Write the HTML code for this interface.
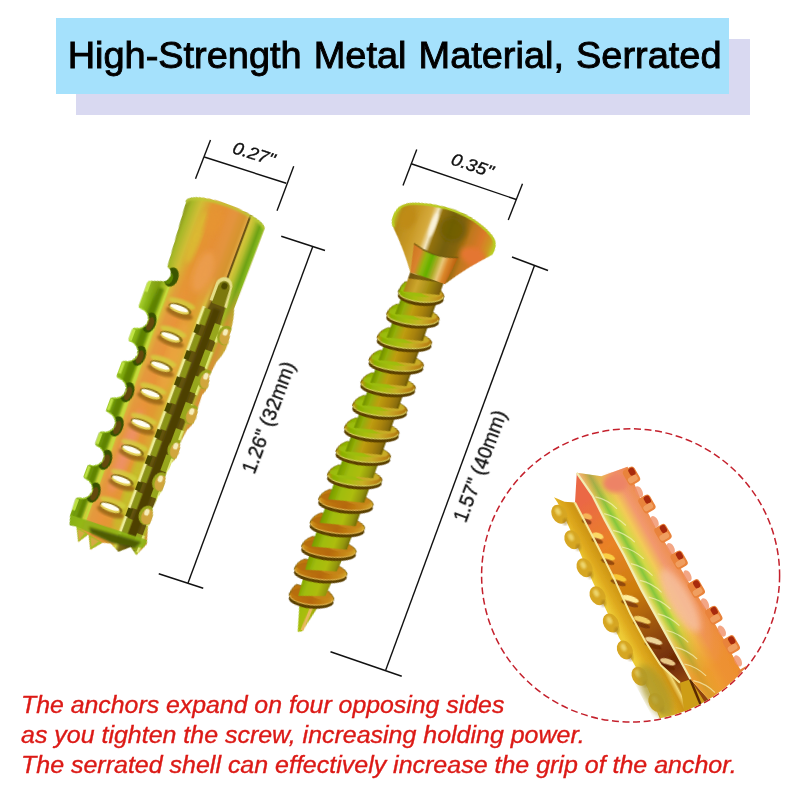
<!DOCTYPE html>
<html><head><meta charset="utf-8">
<style>
html,body{margin:0;padding:0;background:#fff;}
body{width:800px;height:800px;position:relative;overflow:hidden;font-family:"Liberation Sans",sans-serif;}
.lav{position:absolute;left:76px;top:39px;width:673.5px;height:76px;background:#d9d9f1;}
.blue{position:absolute;left:56px;top:18px;width:673px;height:76px;background:#a5e1fc;}
.title{position:absolute;left:56px;top:18px;width:673px;height:76px;line-height:76px;text-align:center;font-size:36.5px;color:#000;white-space:nowrap;transform:translate(2.1px,-0.5px) scaleX(1.039);word-spacing:1.5px;-webkit-text-stroke:0.9px #000;filter:blur(0.35px);}
.red{position:absolute;left:21px;color:#dc1a16;font-style:italic;font-size:23.5px;white-space:nowrap;line-height:24px;transform-origin:0 0;-webkit-text-stroke:0.35px #dc1a16;filter:blur(0.3px);}
svg{position:absolute;left:0;top:0;}
</style></head><body>
<div class="lav"></div><div class="blue"></div>
<div class="title" id="title">High-Strength Metal Material, Serrated</div>
<svg width="800" height="800" viewBox="0 0 800 800" font-family="Liberation Sans, sans-serif">
<g stroke="#111" stroke-width="1.4" fill="none" stroke-linecap="butt">
<line x1="210.5" y1="140" x2="195.5" y2="178.75"/>
<line x1="293.75" y1="166.25" x2="277" y2="210.75"/>
<line x1="204.25" y1="157" x2="286.25" y2="183.25"/>
<line x1="281.25" y1="236.25" x2="325" y2="250.5"/>
<line x1="312.6" y1="247" x2="188" y2="583"/>
<line x1="158.75" y1="573.75" x2="203.25" y2="588.25"/>
<line x1="416.75" y1="149.5" x2="403" y2="185.5"/>
<line x1="522.5" y1="183.75" x2="508.25" y2="220"/>
<line x1="411.25" y1="163.75" x2="516.25" y2="199.5"/>
<line x1="512" y1="257" x2="548" y2="270.5"/>
<line x1="534.5" y1="265.5" x2="385.75" y2="670"/>
<line x1="330.5" y1="651.75" x2="401.75" y2="676.25"/>
</g>
<ellipse cx="630.6" cy="575.4" rx="149" ry="146.6" fill="none" stroke="#c4202c" stroke-width="1.5" stroke-dasharray="7 3.6"/>
<g fill="#111" stroke="#111" stroke-width="0.35" style="filter:blur(0.3px)">
<text id="t027" transform="translate(254,153.3) rotate(17.7) scale(1.09,1)" font-size="17.3" font-style="italic" text-anchor="middle" y="6.2">0.27"</text>
<text id="t035" transform="translate(472.5,165) rotate(18.8) scale(1.09,1)" font-size="17.3" font-style="italic" text-anchor="middle" y="6.2">0.35"</text>
<text id="t126" transform="translate(268.4,417.4) rotate(-69.5)" font-size="19.5" text-anchor="middle" y="7">1.26" (32mm)</text>
<text id="t157" transform="translate(479.8,466) rotate(-69.5)" font-size="19.5" text-anchor="middle" y="7">1.57" (40mm)</text>
</g>
<!-- ART -->
<g id="anchor" transform="translate(186.4,201.6) rotate(20.35)">
<defs>
<linearGradient id="aBody" gradientUnits="userSpaceOnUse" x1="-8" y1="0" x2="88" y2="0">
<stop offset="0" stop-color="#b4d838"/><stop offset="0.05" stop-color="#9cc424"/><stop offset="0.12" stop-color="#80a814"/>
<stop offset="0.18" stop-color="#a8cc28"/><stop offset="0.215" stop-color="#ccdc40"/>
<stop offset="0.25" stop-color="#e4bc44"/><stop offset="0.3" stop-color="#e8a848"/><stop offset="0.4" stop-color="#eca444"/><stop offset="0.52" stop-color="#e6a83c"/><stop offset="0.6" stop-color="#e0b83c"/>
<stop offset="0.64" stop-color="#dcdc50"/><stop offset="0.68" stop-color="#8a8020"/><stop offset="0.76" stop-color="#70641a"/><stop offset="0.83" stop-color="#7c741c"/>
<stop offset="0.86" stop-color="#b4cc30"/><stop offset="0.92" stop-color="#dca040"/><stop offset="1" stop-color="#d0b840"/>
</linearGradient>
<linearGradient id="aCyl" gradientUnits="userSpaceOnUse" x1="0" y1="0" x2="86" y2="0">
<stop offset="0" stop-color="#98a828"/><stop offset="0.07" stop-color="#b4c434"/><stop offset="0.17" stop-color="#d8c840"/>
<stop offset="0.3" stop-color="#e8a63c"/><stop offset="0.45" stop-color="#eaa040"/><stop offset="0.58" stop-color="#e8a448"/><stop offset="0.7" stop-color="#dca438"/>
<stop offset="0.74" stop-color="#e4b44c"/><stop offset="0.755" stop-color="#4a3c0c"/><stop offset="0.775" stop-color="#e0d048"/>
<stop offset="0.83" stop-color="#c0c838"/><stop offset="0.9" stop-color="#7cb020"/><stop offset="0.96" stop-color="#a0cc2c"/><stop offset="1" stop-color="#b4dc3c"/>
</linearGradient>
<linearGradient id="aCylV" gradientUnits="userSpaceOnUse" x1="0" y1="60" x2="0" y2="105">
<stop offset="0" stop-color="#fff" stop-opacity="1"/><stop offset="1" stop-color="#fff" stop-opacity="0"/>
</linearGradient>
<mask id="aCylM"><rect x="-20" y="-20" width="130" height="140" fill="url(#aCylV)"/></mask>
<clipPath id="aClip"><path d="M0,1 L4.5,62 L5,68 A6,7.5 0 0 1 5,83 L-6.5,87 Q-8.5,87.5 -8.5,90 L-8.5,113.8 Q-8.5,115.8 -6.5,116.3 A10.5,9.7 0 0 1 -4.5,136.3 Q-6.5,136.8 -6.5,138.8 L-6.5,148.4 Q-6.5,150.4 -4.5,150.9 A10.5,9.7 0 0 1 -3,170.9 Q-5,171.4 -5,173.4 L-5,186.7 Q-5,188.7 -3,189.2 A10.5,9.7 0 0 1 -1,209.2 Q-3,209.7 -3,211.7 L-3,222.5 Q-3,224.5 -1,225.0 A10.5,9.7 0 0 1 0.5,245.0 Q-1.5,245.5 -1.5,247.5 L-1.5,257.8 Q-1.5,259.8 0.5,260.3 A10.5,9.7 0 0 1 1,280.3 Q-1,280.8 -1,282.8 L-1,292.6 Q-1,294.6 1,295.1 A10.5,9.7 0 0 1 1.5,315.1 Q-0.5,315.6 -0.5,317.6 L0,334 L3,344 L10,343 L17,357 L24,346 L31,360 L40,349 L48,347 L58,352 L68,343 L76,349 L82,335 L77,318 Q80,308 75,300 L76,286 Q80,274 75.5,264 L77,250 Q83,240 78,229 L80,214 Q87,202 82.5,190 L82,176 Q87,166 82,156 L84,140 Q91,124 87,110 Q86,95 82,84 L82.5,-2.6 A41.5,11 0 0 0 0,1 Z"/></clipPath>
<filter id="b06"><feGaussianBlur stdDeviation="0.6"/><feComponentTransfer><feFuncR type="gamma" exponent="1.18"/><feFuncG type="gamma" exponent="1.22"/><feFuncB type="gamma" exponent="1.1"/></feComponentTransfer></filter>
<filter id="b06p"><feGaussianBlur stdDeviation="0.6"/></filter>
<filter id="b1"><feGaussianBlur stdDeviation="1"/></filter>
<filter id="b2"><feGaussianBlur stdDeviation="2"/></filter>
<filter id="b3"><feGaussianBlur stdDeviation="3"/></filter>
</defs>
<g filter="url(#b06)">
<path d="M0,1 L4.5,62 L5,68 A6,7.5 0 0 1 5,83 L-6.5,87 Q-8.5,87.5 -8.5,90 L-8.5,113.8 Q-8.5,115.8 -6.5,116.3 A10.5,9.7 0 0 1 -4.5,136.3 Q-6.5,136.8 -6.5,138.8 L-6.5,148.4 Q-6.5,150.4 -4.5,150.9 A10.5,9.7 0 0 1 -3,170.9 Q-5,171.4 -5,173.4 L-5,186.7 Q-5,188.7 -3,189.2 A10.5,9.7 0 0 1 -1,209.2 Q-3,209.7 -3,211.7 L-3,222.5 Q-3,224.5 -1,225.0 A10.5,9.7 0 0 1 0.5,245.0 Q-1.5,245.5 -1.5,247.5 L-1.5,257.8 Q-1.5,259.8 0.5,260.3 A10.5,9.7 0 0 1 1,280.3 Q-1,280.8 -1,282.8 L-1,292.6 Q-1,294.6 1,295.1 A10.5,9.7 0 0 1 1.5,315.1 Q-0.5,315.6 -0.5,317.6 L0,334 L3,344 L10,343 L17,357 L24,346 L31,360 L40,349 L48,347 L58,352 L68,343 L76,349 L82,335 L77,318 Q80,308 75,300 L76,286 Q80,274 75.5,264 L77,250 Q83,240 78,229 L80,214 Q87,202 82.5,190 L82,176 Q87,166 82,156 L84,140 Q91,124 87,110 Q86,95 82,84 L82.5,-2.6 A41.5,11 0 0 0 0,1 Z" fill="url(#aBody)"/>
<g clip-path="url(#aClip)">
<rect x="-10" y="-15" width="100" height="125" fill="url(#aCyl)" mask="url(#aCylM)"/>
<path d="M0,2 A41.5,11 0 0 1 82.5,-1.6" stroke="#c8d440" stroke-width="3" fill="none" filter="url(#b1)"/>
<ellipse cx="22" cy="30" rx="5" ry="28" fill="#e0c83c" opacity="0.8" filter="url(#b2)"/>
<ellipse cx="40" cy="60" rx="9" ry="22" fill="#f0b060" opacity="0.7" filter="url(#b3)"/>
<ellipse cx="33" cy="10" rx="8" ry="14" fill="#eaa43c" opacity="0.8" filter="url(#b3)"/>
<path d="M4,90 L2,120 L3,200 L6,335 L12,335 L10.5,200 L9.5,120 L9.5,90 Z" fill="#6c9010" opacity="0.9" filter="url(#b1)"/>
<path d="M12.5,86 L12.5,120 L14,200 L16,335" stroke="#cce044" stroke-width="3" fill="none" filter="url(#b06p)"/>
<ellipse cx="12.2" cy="76" rx="7" ry="10" fill="#4c6c08"/>
<ellipse cx="10.2" cy="78" rx="4" ry="6" fill="#6c9410"/>
<rect x="-8.0" y="86.5" width="3" height="12" fill="#ccec54" opacity="0.9" filter="url(#b06p)"/>
<ellipse cx="7.5" cy="126.3" rx="6.5" ry="10.5" fill="#4a6608"/>
<ellipse cx="8.5" cy="127.3" rx="3.5" ry="7" fill="#7a5c20" opacity="0.9"/>
<path d="M-6.5,116.3 A10.5,9.7 0 0 1 -4.5,136.3" stroke="#b8e040" stroke-width="1.8" fill="none"/>
<rect x="-6.0" y="137.8" width="3" height="12" fill="#ccec54" opacity="0.9" filter="url(#b06p)"/>
<ellipse cx="9.25" cy="160.9" rx="6.5" ry="10.5" fill="#4a6608"/>
<ellipse cx="10.25" cy="161.9" rx="3.5" ry="7" fill="#7a5c20" opacity="0.9"/>
<path d="M-4.5,150.9 A10.5,9.7 0 0 1 -3,170.9" stroke="#b8e040" stroke-width="1.8" fill="none"/>
<rect x="-4.5" y="172.4" width="3" height="12" fill="#ccec54" opacity="0.9" filter="url(#b06p)"/>
<ellipse cx="11.0" cy="199.2" rx="6.5" ry="10.5" fill="#4a6608"/>
<ellipse cx="12.0" cy="200.2" rx="3.5" ry="7" fill="#7a5c20" opacity="0.9"/>
<path d="M-3,189.2 A10.5,9.7 0 0 1 -1,209.2" stroke="#b8e040" stroke-width="1.8" fill="none"/>
<rect x="-2.5" y="210.7" width="3" height="12" fill="#ccec54" opacity="0.9" filter="url(#b06p)"/>
<ellipse cx="12.75" cy="235" rx="6.5" ry="10.5" fill="#4a6608"/>
<ellipse cx="13.75" cy="236" rx="3.5" ry="7" fill="#7a5c20" opacity="0.9"/>
<path d="M-1,225.0 A10.5,9.7 0 0 1 0.5,245.0" stroke="#b8e040" stroke-width="1.8" fill="none"/>
<rect x="-1.0" y="246.5" width="3" height="12" fill="#ccec54" opacity="0.9" filter="url(#b06p)"/>
<ellipse cx="13.75" cy="270.3" rx="6.5" ry="10.5" fill="#4a6608"/>
<ellipse cx="14.75" cy="271.3" rx="3.5" ry="7" fill="#7a5c20" opacity="0.9"/>
<path d="M0.5,260.3 A10.5,9.7 0 0 1 1,280.3" stroke="#b8e040" stroke-width="1.8" fill="none"/>
<rect x="-0.5" y="281.8" width="3" height="12" fill="#ccec54" opacity="0.9" filter="url(#b06p)"/>
<ellipse cx="14.25" cy="305.1" rx="6.5" ry="10.5" fill="#4a6608"/>
<ellipse cx="15.25" cy="306.1" rx="3.5" ry="7" fill="#7a5c20" opacity="0.9"/>
<path d="M1,295.1 A10.5,9.7 0 0 1 1.5,315.1" stroke="#b8e040" stroke-width="1.8" fill="none"/>
<rect x="0.0" y="316.6" width="3" height="12" fill="#ccec54" opacity="0.9" filter="url(#b06p)"/>
<ellipse cx="30" cy="255" rx="6" ry="45" fill="#f2a078" opacity="0.85" filter="url(#b3)"/>
<ellipse cx="42" cy="150" rx="8" ry="40" fill="#f0b850" opacity="0.6" filter="url(#b3)"/>
<ellipse cx="47" cy="290" rx="5" ry="45" fill="#c4d030" opacity="0.8" filter="url(#b3)"/>
<ellipse cx="31.3" cy="97.2" rx="14" ry="4" fill="#d8dc48" opacity="0.75" filter="url(#b1)"/>
<ellipse cx="32.3" cy="107.2" rx="14" ry="4.5" fill="#a87c24" opacity="0.9" filter="url(#b1)"/>
<ellipse cx="31.3" cy="102.7" rx="12" ry="4.6" fill="#9a8420"/>
<ellipse cx="30.8" cy="103.9" rx="10.5" ry="3.4" fill="#e8d860"/>
<ellipse cx="30.3" cy="102.4" rx="9.5" ry="2.6" fill="#fffef4"/>
<ellipse cx="32.8" cy="126.6" rx="14" ry="4" fill="#d8dc48" opacity="0.75" filter="url(#b1)"/>
<ellipse cx="33.8" cy="136.6" rx="14" ry="4.5" fill="#a87c24" opacity="0.9" filter="url(#b1)"/>
<ellipse cx="32.8" cy="132.1" rx="12" ry="4.6" fill="#9a8420"/>
<ellipse cx="32.3" cy="133.29999999999998" rx="10.5" ry="3.4" fill="#e8d860"/>
<ellipse cx="31.799999999999997" cy="131.79999999999998" rx="9.5" ry="2.6" fill="#fffef4"/>
<ellipse cx="33.7" cy="157.6" rx="14" ry="4" fill="#d8dc48" opacity="0.75" filter="url(#b1)"/>
<ellipse cx="34.7" cy="167.6" rx="14" ry="4.5" fill="#a87c24" opacity="0.9" filter="url(#b1)"/>
<ellipse cx="33.7" cy="163.1" rx="12" ry="4.6" fill="#9a8420"/>
<ellipse cx="33.2" cy="164.29999999999998" rx="10.5" ry="3.4" fill="#e8d860"/>
<ellipse cx="32.7" cy="162.79999999999998" rx="9.5" ry="2.6" fill="#fffef4"/>
<ellipse cx="33.9" cy="186.9" rx="14" ry="4" fill="#d8dc48" opacity="0.75" filter="url(#b1)"/>
<ellipse cx="34.9" cy="196.9" rx="14" ry="4.5" fill="#a87c24" opacity="0.9" filter="url(#b1)"/>
<ellipse cx="33.9" cy="192.4" rx="12" ry="4.6" fill="#9a8420"/>
<ellipse cx="33.4" cy="193.6" rx="10.5" ry="3.4" fill="#e8d860"/>
<ellipse cx="32.9" cy="192.1" rx="9.5" ry="2.6" fill="#fffef4"/>
<ellipse cx="35.7" cy="218.5" rx="14" ry="4" fill="#d8dc48" opacity="0.75" filter="url(#b1)"/>
<ellipse cx="36.7" cy="228.5" rx="14" ry="4.5" fill="#a87c24" opacity="0.9" filter="url(#b1)"/>
<ellipse cx="35.7" cy="224" rx="12" ry="4.6" fill="#9a8420"/>
<ellipse cx="35.2" cy="225.2" rx="10.5" ry="3.4" fill="#e8d860"/>
<ellipse cx="34.7" cy="223.7" rx="9.5" ry="2.6" fill="#fffef4"/>
<ellipse cx="36" cy="246.4" rx="14" ry="4" fill="#d8dc48" opacity="0.75" filter="url(#b1)"/>
<ellipse cx="37" cy="256.4" rx="14" ry="4.5" fill="#a87c24" opacity="0.9" filter="url(#b1)"/>
<ellipse cx="36" cy="251.9" rx="12" ry="4.6" fill="#9a8420"/>
<ellipse cx="35.5" cy="253.1" rx="10.5" ry="3.4" fill="#e8d860"/>
<ellipse cx="35" cy="251.6" rx="9.5" ry="2.6" fill="#fffef4"/>
<ellipse cx="36.7" cy="278.1" rx="14" ry="4" fill="#d8dc48" opacity="0.75" filter="url(#b1)"/>
<ellipse cx="37.7" cy="288.1" rx="14" ry="4.5" fill="#a87c24" opacity="0.9" filter="url(#b1)"/>
<ellipse cx="36.7" cy="283.6" rx="12" ry="4.6" fill="#9a8420"/>
<ellipse cx="36.2" cy="284.8" rx="10.5" ry="3.4" fill="#e8d860"/>
<ellipse cx="35.7" cy="283.3" rx="9.5" ry="2.6" fill="#fffef4"/>
<ellipse cx="35.7" cy="307.5" rx="14" ry="4" fill="#d8dc48" opacity="0.75" filter="url(#b1)"/>
<ellipse cx="36.7" cy="317.5" rx="14" ry="4.5" fill="#a87c24" opacity="0.9" filter="url(#b1)"/>
<ellipse cx="35.7" cy="313" rx="12" ry="4.6" fill="#9a8420"/>
<ellipse cx="35.2" cy="314.2" rx="10.5" ry="3.4" fill="#e8d860"/>
<ellipse cx="34.7" cy="312.7" rx="9.5" ry="2.6" fill="#fffef4"/>
<path d="M60,70 L72,70 L76,120 L75,335 L53,335 L54,120 Z" fill="#74681a"/>
<path d="M62,90 L70,90 L70,335 L60,335 Z" fill="#5e5410" filter="url(#b1)"/>
<rect x="51.5" y="92" width="3" height="19" fill="#f0f0a0"/>
<rect x="54.5" y="93" width="6" height="17" fill="#9aa424"/>
<rect x="52" y="111" width="5" height="9" fill="#5a5c10"/>
<rect x="69" y="104" width="6.5" height="17" fill="#a4b428"/>
<rect x="75" y="104" width="2.5" height="18" fill="#e4ec80"/>
<rect x="51.5" y="120" width="3" height="19" fill="#f0f0a0"/>
<rect x="54.5" y="121" width="6" height="17" fill="#9aa424"/>
<rect x="52" y="139" width="5" height="9" fill="#5a5c10"/>
<rect x="69" y="132" width="6.5" height="17" fill="#a4b428"/>
<rect x="75" y="132" width="2.5" height="18" fill="#e4ec80"/>
<rect x="51.5" y="148" width="3" height="19" fill="#f0f0a0"/>
<rect x="54.5" y="149" width="6" height="17" fill="#9aa424"/>
<rect x="52" y="167" width="5" height="9" fill="#5a5c10"/>
<rect x="69" y="160" width="6.5" height="17" fill="#a4b428"/>
<rect x="75" y="160" width="2.5" height="18" fill="#e4ec80"/>
<rect x="51.5" y="176" width="3" height="19" fill="#f0f0a0"/>
<rect x="54.5" y="177" width="6" height="17" fill="#9aa424"/>
<rect x="52" y="195" width="5" height="9" fill="#5a5c10"/>
<rect x="69" y="188" width="6.5" height="17" fill="#a4b428"/>
<rect x="75" y="188" width="2.5" height="18" fill="#e4ec80"/>
<rect x="51.5" y="204" width="3" height="19" fill="#f0f0a0"/>
<rect x="54.5" y="205" width="6" height="17" fill="#9aa424"/>
<rect x="52" y="223" width="5" height="9" fill="#5a5c10"/>
<rect x="69" y="216" width="6.5" height="17" fill="#a4b428"/>
<rect x="75" y="216" width="2.5" height="18" fill="#e4ec80"/>
<rect x="51.5" y="232" width="3" height="19" fill="#f0f0a0"/>
<rect x="54.5" y="233" width="6" height="17" fill="#9aa424"/>
<rect x="52" y="251" width="5" height="9" fill="#5a5c10"/>
<rect x="69" y="244" width="6.5" height="17" fill="#a4b428"/>
<rect x="75" y="244" width="2.5" height="18" fill="#e4ec80"/>
<rect x="51.5" y="260" width="3" height="19" fill="#f0f0a0"/>
<rect x="54.5" y="261" width="6" height="17" fill="#9aa424"/>
<rect x="52" y="279" width="5" height="9" fill="#5a5c10"/>
<rect x="69" y="272" width="6.5" height="17" fill="#a4b428"/>
<rect x="75" y="272" width="2.5" height="18" fill="#e4ec80"/>
<rect x="51.5" y="288" width="3" height="19" fill="#f0f0a0"/>
<rect x="54.5" y="289" width="6" height="17" fill="#9aa424"/>
<rect x="52" y="307" width="5" height="9" fill="#5a5c10"/>
<rect x="69" y="300" width="6.5" height="17" fill="#a4b428"/>
<rect x="75" y="300" width="2.5" height="18" fill="#e4ec80"/>
<rect x="51.5" y="316" width="3" height="19" fill="#f0f0a0"/>
<rect x="54.5" y="317" width="6" height="17" fill="#9aa424"/>
<rect x="52" y="335" width="5" height="9" fill="#5a5c10"/>
<rect x="69" y="328" width="6.5" height="17" fill="#a4b428"/>
<rect x="75" y="328" width="2.5" height="18" fill="#e4ec80"/>
<ellipse cx="83" cy="112" rx="8" ry="10" fill="#a8b428"/>
<ellipse cx="84" cy="113" rx="6" ry="8" fill="#d8b448" filter="url(#b06p)"/>
<ellipse cx="82" cy="109" rx="2.5" ry="3.5" fill="#f8f0c0" filter="url(#b06p)"/>
<ellipse cx="80" cy="160" rx="8" ry="10" fill="#a8b428"/>
<ellipse cx="81" cy="161" rx="6" ry="8" fill="#d8b448" filter="url(#b06p)"/>
<ellipse cx="79" cy="157" rx="2.5" ry="3.5" fill="#f8f0c0" filter="url(#b06p)"/>
<ellipse cx="79" cy="198" rx="8" ry="10" fill="#a8b428"/>
<ellipse cx="80" cy="199" rx="6" ry="8" fill="#d8b448" filter="url(#b06p)"/>
<ellipse cx="78" cy="195" rx="2.5" ry="3.5" fill="#f8f0c0" filter="url(#b06p)"/>
<ellipse cx="76" cy="236" rx="8" ry="10" fill="#a8b428"/>
<ellipse cx="77" cy="237" rx="6" ry="8" fill="#d8b448" filter="url(#b06p)"/>
<ellipse cx="75" cy="233" rx="2.5" ry="3.5" fill="#f8f0c0" filter="url(#b06p)"/>
<ellipse cx="73" cy="272" rx="8" ry="10" fill="#a8b428"/>
<ellipse cx="74" cy="273" rx="6" ry="8" fill="#d8b448" filter="url(#b06p)"/>
<ellipse cx="72" cy="269" rx="2.5" ry="3.5" fill="#f8f0c0" filter="url(#b06p)"/>
<ellipse cx="72" cy="308" rx="8" ry="10" fill="#a8b428"/>
<ellipse cx="73" cy="309" rx="6" ry="8" fill="#d8b448" filter="url(#b06p)"/>
<ellipse cx="71" cy="305" rx="2.5" ry="3.5" fill="#f8f0c0" filter="url(#b06p)"/>
<path d="M56,84 L56,66 A8.5,9 0 0 1 73,66 L75,86 Z" fill="#e8e490"/>
<path d="M59,86 L59,68 A6,7 0 0 1 71,68 L72,86 Z" fill="#8c8c1c"/>
<ellipse cx="65" cy="66" rx="3" ry="3.5" fill="#5c5c0c"/>
<path d="M0,334 L82,331 L80,340 L48,345 L3,343 Z" fill="#9cc024" opacity="0.9" filter="url(#b06p)"/>
<path d="M22,339 L76,335 L72,343 L48,346 L26,344 Z" fill="#546410" opacity="0.85" filter="url(#b1)"/>
<path d="M10,343 L17,357 L24,346 Z M24,346 L31,360 L40,349 Z M58,352 L68,343 L76,349 L70,353 Z" fill="#b0c82c"/>
<path d="M12,345 L17,355 L20,346 Z M27,348 L31,357 L36,349 Z" fill="#dcb850"/>
</g></g>
</g>
<g id="screw" transform="translate(444,230.7) rotate(19.9)">
<defs>
<linearGradient id="sCore" gradientUnits="userSpaceOnUse" x1="-18" y1="0" x2="18" y2="0">
<stop offset="0" stop-color="#7c9c08"/><stop offset="0.18" stop-color="#a0bc12"/><stop offset="0.42" stop-color="#c8ac20"/>
<stop offset="0.7" stop-color="#b49418"/><stop offset="0.9" stop-color="#988014"/><stop offset="1" stop-color="#74640c"/>
</linearGradient>
<linearGradient id="sCore2" gradientUnits="userSpaceOnUse" x1="-18" y1="0" x2="18" y2="0">
<stop offset="0" stop-color="#84a80a"/><stop offset="0.3" stop-color="#acc816"/><stop offset="0.6" stop-color="#b8c81e"/>
<stop offset="0.85" stop-color="#a0a418"/><stop offset="1" stop-color="#807c0e"/>
</linearGradient>
<linearGradient id="sDisc" gradientUnits="userSpaceOnUse" x1="-28" y1="0" x2="28" y2="0">
<stop offset="0" stop-color="#d09c1c"/><stop offset="0.12" stop-color="#98bc0c"/><stop offset="0.4" stop-color="#b4c81c"/>
<stop offset="0.65" stop-color="#d0bc30"/><stop offset="0.85" stop-color="#c89c24"/><stop offset="1" stop-color="#b4881c"/>
</linearGradient>
<linearGradient id="sDiscB" gradientUnits="userSpaceOnUse" x1="-28" y1="0" x2="28" y2="0">
<stop offset="0" stop-color="#d8a828"/><stop offset="0.15" stop-color="#c88a1c"/><stop offset="0.5" stop-color="#c07c18"/>
<stop offset="0.8" stop-color="#d09a24"/><stop offset="1" stop-color="#d8b430"/>
</linearGradient>
<linearGradient id="sHead" gradientUnits="userSpaceOnUse" x1="-53" y1="0" x2="53" y2="0">
<stop offset="0" stop-color="#c4d42c"/><stop offset="0.07" stop-color="#c09a22"/><stop offset="0.22" stop-color="#d0a830"/><stop offset="0.33" stop-color="#dcb848"/>
<stop offset="0.385" stop-color="#f6ecc8"/><stop offset="0.43" stop-color="#a08418"/><stop offset="0.55" stop-color="#847414"/><stop offset="0.66" stop-color="#94781a"/>
<stop offset="0.75" stop-color="#c88a26"/><stop offset="0.86" stop-color="#e08a34"/><stop offset="0.95" stop-color="#d4a82c"/><stop offset="1" stop-color="#c4d42c"/>
</linearGradient>
<linearGradient id="sNeck" gradientUnits="userSpaceOnUse" x1="-18" y1="0" x2="18" y2="0">
<stop offset="0" stop-color="#b89420"/><stop offset="0.3" stop-color="#d4b438"/><stop offset="0.6" stop-color="#b4a020"/><stop offset="1" stop-color="#846c10"/>
</linearGradient>
<linearGradient id="sCone" gradientUnits="userSpaceOnUse" x1="-24" y1="0" x2="22" y2="0">
<stop offset="0" stop-color="#d4882c"/><stop offset="0.2" stop-color="#e09438"/><stop offset="0.34" stop-color="#a0c418"/><stop offset="0.48" stop-color="#74bc0c"/>
<stop offset="0.6" stop-color="#b4b830"/><stop offset="0.72" stop-color="#ecd080"/><stop offset="0.84" stop-color="#e09834"/><stop offset="1" stop-color="#c4741c"/>
</linearGradient>
</defs>
<g filter="url(#b06)">
<path d="M-12.5,388 L-1,427 L3,425 L12.5,384 Z" fill="url(#sCore2)"/>
<path d="M4,396 L2.5,424" stroke="#ecc468" stroke-width="3" fill="none"/>
<g transform="translate(0,389) rotate(-14)">
<ellipse cx="0" cy="4" rx="22.5" ry="8" fill="#6c5408"/>
<path d="M-22.5,0 Q-20.5,-7 -16.5,-10.5 L16.5,-7 Q20.5,-4 22.5,0 Z" fill="url(#sDiscB)" stroke="#7a6810" stroke-width="0.5"/>
<ellipse cx="0" cy="0.5" rx="22.5" ry="8" fill="url(#sDiscB)" stroke="#7a6810" stroke-width="0.6"/>
<ellipse cx="-1" cy="-2.5" rx="19.5" ry="5.6" fill="#c08018" opacity="0.9"/>
<ellipse cx="10.125" cy="-2" rx="10.125" ry="4.4" fill="#d09828" opacity="0.9" filter="url(#b06p)"/>
<path d="M-21.5,1 A21.5,7.4 0 0 0 21.5,1" stroke="#ecc860" stroke-width="1.2" fill="none" opacity="0.9"/>
</g>
<path d="M-12.763157894736842,393 L-15.131578947368421,362 L15.131578947368421,354 L12.763157894736842,384 Z" fill="url(#sCore2)"/>
<path d="M-15.131578947368421,371 L-15.131578947368421,362 L15.131578947368421,354 L15.131578947368421,363 Z" fill="#5a4a08" opacity="0.6"/>
<g transform="translate(0,362) rotate(-14)">
<ellipse cx="0" cy="4" rx="26.5" ry="8" fill="#6c5408"/>
<path d="M-26.5,0 Q-24.5,-7 -17.5,-10.5 L17.5,-7 Q24.5,-4 26.5,0 Z" fill="url(#sDiscB)" stroke="#7a6810" stroke-width="0.5"/>
<ellipse cx="0" cy="0.5" rx="26.5" ry="8" fill="url(#sDiscB)" stroke="#7a6810" stroke-width="0.6"/>
<ellipse cx="-1" cy="-2.5" rx="23.5" ry="5.6" fill="#c08018" opacity="0.9"/>
<ellipse cx="11.925" cy="-2" rx="11.925" ry="4.4" fill="#d09828" opacity="0.9" filter="url(#b06p)"/>
<path d="M-25.5,1 A25.5,7.4 0 0 0 25.5,1" stroke="#ecc860" stroke-width="1.2" fill="none" opacity="0.9"/>
</g>
<path d="M-15.131578947368421,366 L-17.236842105263158,338 L17.236842105263158,330 L15.131578947368421,357 Z" fill="url(#sCore2)"/>
<path d="M-17.236842105263158,347 L-17.236842105263158,338 L17.236842105263158,330 L17.236842105263158,339 Z" fill="#5a4a08" opacity="0.6"/>
<g transform="translate(0,338) rotate(-14)">
<ellipse cx="0" cy="4" rx="27.5" ry="8" fill="#6c5408"/>
<path d="M-27.5,0 Q-25.5,-7 -17.5,-10.5 L17.5,-7 Q25.5,-4 27.5,0 Z" fill="url(#sDiscB)" stroke="#7a6810" stroke-width="0.5"/>
<ellipse cx="0" cy="0.5" rx="27.5" ry="8" fill="url(#sDiscB)" stroke="#7a6810" stroke-width="0.6"/>
<ellipse cx="-1" cy="-2.5" rx="24.5" ry="5.6" fill="#c08018" opacity="0.9"/>
<ellipse cx="12.375" cy="-2" rx="12.375" ry="4.4" fill="#d09828" opacity="0.9" filter="url(#b06p)"/>
<path d="M-26.5,1 A26.5,7.4 0 0 0 26.5,1" stroke="#ecc860" stroke-width="1.2" fill="none" opacity="0.9"/>
</g>
<path d="M-17.236842105263158,342 L-17.5,313 L17.5,305 L17.236842105263158,333 Z" fill="url(#sCore2)"/>
<path d="M-17.5,322 L-17.5,313 L17.5,305 L17.5,314 Z" fill="#5a4a08" opacity="0.6"/>
<g transform="translate(0,313) rotate(-14)">
<ellipse cx="0" cy="4" rx="27.5" ry="8" fill="#6c5408"/>
<path d="M-27.5,0 Q-25.5,-7 -17.5,-10.5 L17.5,-7 Q25.5,-4 27.5,0 Z" fill="url(#sDiscB)" stroke="#7a6810" stroke-width="0.5"/>
<ellipse cx="0" cy="0.5" rx="27.5" ry="8" fill="url(#sDiscB)" stroke="#7a6810" stroke-width="0.6"/>
<ellipse cx="-1" cy="-2.5" rx="24.5" ry="5.6" fill="#c08018" opacity="0.9"/>
<ellipse cx="12.375" cy="-2" rx="12.375" ry="4.4" fill="#d09828" opacity="0.9" filter="url(#b06p)"/>
<path d="M-26.5,1 A26.5,7.4 0 0 0 26.5,1" stroke="#ecc860" stroke-width="1.2" fill="none" opacity="0.9"/>
</g>
<path d="M-17.5,317 L-17.5,288 L17.5,280 L17.5,308 Z" fill="url(#sCore2)"/>
<path d="M-17.5,297 L-17.5,288 L17.5,280 L17.5,289 Z" fill="#5a4a08" opacity="0.6"/>
<g transform="translate(0,288) rotate(-14)">
<ellipse cx="0" cy="4" rx="27.5" ry="8" fill="#6c5408"/>
<path d="M-27.5,0 Q-25.5,-7 -17.5,-10.5 L17.5,-7 Q25.5,-4 27.5,0 Z" fill="url(#sDiscB)" stroke="#7a6810" stroke-width="0.5"/>
<ellipse cx="0" cy="0.5" rx="27.5" ry="8" fill="url(#sDiscB)" stroke="#7a6810" stroke-width="0.6"/>
<ellipse cx="-1" cy="-2.5" rx="24.5" ry="5.6" fill="#c08018" opacity="0.9"/>
<ellipse cx="12.375" cy="-2" rx="12.375" ry="4.4" fill="#d09828" opacity="0.9" filter="url(#b06p)"/>
<path d="M-26.5,1 A26.5,7.4 0 0 0 26.5,1" stroke="#ecc860" stroke-width="1.2" fill="none" opacity="0.9"/>
</g>
<path d="M-17.5,292 L-17.5,262 L17.5,254 L17.5,283 Z" fill="url(#sCore2)"/>
<path d="M-17.5,271 L-17.5,262 L17.5,254 L17.5,263 Z" fill="#5a4a08" opacity="0.6"/>
<g transform="translate(0,262) rotate(-14)">
<ellipse cx="0" cy="4" rx="27.5" ry="8" fill="#6c5408"/>
<path d="M-27.5,0 Q-25.5,-7 -17.5,-10.5 L17.5,-7 Q25.5,-4 27.5,0 Z" fill="url(#sDisc)" stroke="#7a6810" stroke-width="0.5"/>
<ellipse cx="0" cy="0.5" rx="27.5" ry="8" fill="url(#sDisc)" stroke="#7a6810" stroke-width="0.6"/>
<ellipse cx="-1" cy="-2.5" rx="24.5" ry="5.6" fill="#a8c814" opacity="0.9"/>
<ellipse cx="12.375" cy="-2" rx="12.375" ry="4.4" fill="#d4b834" opacity="0.9" filter="url(#b06p)"/>
<path d="M-26.5,1 A26.5,7.4 0 0 0 26.5,1" stroke="#e4e070" stroke-width="1.2" fill="none" opacity="0.9"/>
</g>
<path d="M-17.5,266 L-17.5,237 L17.5,229 L17.5,257 Z" fill="url(#sCore2)"/>
<path d="M-17.5,246 L-17.5,237 L17.5,229 L17.5,238 Z" fill="#5a4a08" opacity="0.6"/>
<g transform="translate(0,237) rotate(-14)">
<ellipse cx="0" cy="4" rx="27.5" ry="8" fill="#6c5408"/>
<path d="M-27.5,0 Q-25.5,-7 -17.5,-10.5 L17.5,-7 Q25.5,-4 27.5,0 Z" fill="url(#sDisc)" stroke="#7a6810" stroke-width="0.5"/>
<ellipse cx="0" cy="0.5" rx="27.5" ry="8" fill="url(#sDisc)" stroke="#7a6810" stroke-width="0.6"/>
<ellipse cx="-1" cy="-2.5" rx="24.5" ry="5.6" fill="#a8c814" opacity="0.9"/>
<ellipse cx="12.375" cy="-2" rx="12.375" ry="4.4" fill="#d4b834" opacity="0.9" filter="url(#b06p)"/>
<path d="M-26.5,1 A26.5,7.4 0 0 0 26.5,1" stroke="#e4e070" stroke-width="1.2" fill="none" opacity="0.9"/>
</g>
<path d="M-17.5,241 L-17.5,212 L17.5,204 L17.5,232 Z" fill="url(#sCore)"/>
<path d="M-17.5,221 L-17.5,212 L17.5,204 L17.5,213 Z" fill="#5a4a08" opacity="0.6"/>
<g transform="translate(0,212) rotate(-14)">
<ellipse cx="0" cy="4" rx="27.5" ry="8" fill="#6c5408"/>
<path d="M-27.5,0 Q-25.5,-7 -17.5,-10.5 L17.5,-7 Q25.5,-4 27.5,0 Z" fill="url(#sDisc)" stroke="#7a6810" stroke-width="0.5"/>
<ellipse cx="0" cy="0.5" rx="27.5" ry="8" fill="url(#sDisc)" stroke="#7a6810" stroke-width="0.6"/>
<ellipse cx="-1" cy="-2.5" rx="24.5" ry="5.6" fill="#a8c814" opacity="0.9"/>
<ellipse cx="12.375" cy="-2" rx="12.375" ry="4.4" fill="#d4b834" opacity="0.9" filter="url(#b06p)"/>
<path d="M-26.5,1 A26.5,7.4 0 0 0 26.5,1" stroke="#e4e070" stroke-width="1.2" fill="none" opacity="0.9"/>
</g>
<path d="M-17.5,216 L-17.5,188 L17.5,180 L17.5,207 Z" fill="url(#sCore)"/>
<path d="M-17.5,197 L-17.5,188 L17.5,180 L17.5,189 Z" fill="#5a4a08" opacity="0.6"/>
<g transform="translate(0,188) rotate(-14)">
<ellipse cx="0" cy="4" rx="27.5" ry="8" fill="#6c5408"/>
<path d="M-27.5,0 Q-25.5,-7 -17.5,-10.5 L17.5,-7 Q25.5,-4 27.5,0 Z" fill="url(#sDisc)" stroke="#7a6810" stroke-width="0.5"/>
<ellipse cx="0" cy="0.5" rx="27.5" ry="8" fill="url(#sDisc)" stroke="#7a6810" stroke-width="0.6"/>
<ellipse cx="-1" cy="-2.5" rx="24.5" ry="5.6" fill="#a8c814" opacity="0.9"/>
<ellipse cx="12.375" cy="-2" rx="12.375" ry="4.4" fill="#d4b834" opacity="0.9" filter="url(#b06p)"/>
<path d="M-26.5,1 A26.5,7.4 0 0 0 26.5,1" stroke="#e4e070" stroke-width="1.2" fill="none" opacity="0.9"/>
</g>
<path d="M-17.5,192 L-17.5,164 L17.5,156 L17.5,183 Z" fill="url(#sCore)"/>
<path d="M-17.5,173 L-17.5,164 L17.5,156 L17.5,165 Z" fill="#5a4a08" opacity="0.6"/>
<g transform="translate(0,164) rotate(-14)">
<ellipse cx="0" cy="4" rx="27.5" ry="8" fill="#6c5408"/>
<path d="M-27.5,0 Q-25.5,-7 -17.5,-10.5 L17.5,-7 Q25.5,-4 27.5,0 Z" fill="url(#sDisc)" stroke="#7a6810" stroke-width="0.5"/>
<ellipse cx="0" cy="0.5" rx="27.5" ry="8" fill="url(#sDisc)" stroke="#7a6810" stroke-width="0.6"/>
<ellipse cx="-1" cy="-2.5" rx="24.5" ry="5.6" fill="#a8c814" opacity="0.9"/>
<ellipse cx="12.375" cy="-2" rx="12.375" ry="4.4" fill="#d4b834" opacity="0.9" filter="url(#b06p)"/>
<path d="M-26.5,1 A26.5,7.4 0 0 0 26.5,1" stroke="#e4e070" stroke-width="1.2" fill="none" opacity="0.9"/>
</g>
<path d="M-17.5,168 L-17.5,140 L17.5,132 L17.5,159 Z" fill="url(#sCore)"/>
<path d="M-17.5,149 L-17.5,140 L17.5,132 L17.5,141 Z" fill="#5a4a08" opacity="0.6"/>
<g transform="translate(0,140) rotate(-14)">
<ellipse cx="0" cy="4" rx="27.5" ry="8" fill="#6c5408"/>
<path d="M-27.5,0 Q-25.5,-7 -17.5,-10.5 L17.5,-7 Q25.5,-4 27.5,0 Z" fill="url(#sDisc)" stroke="#7a6810" stroke-width="0.5"/>
<ellipse cx="0" cy="0.5" rx="27.5" ry="8" fill="url(#sDisc)" stroke="#7a6810" stroke-width="0.6"/>
<ellipse cx="-1" cy="-2.5" rx="24.5" ry="5.6" fill="#a8c814" opacity="0.9"/>
<ellipse cx="12.375" cy="-2" rx="12.375" ry="4.4" fill="#d4b834" opacity="0.9" filter="url(#b06p)"/>
<path d="M-26.5,1 A26.5,7.4 0 0 0 26.5,1" stroke="#e4e070" stroke-width="1.2" fill="none" opacity="0.9"/>
</g>
<path d="M-17.5,144 L-17.5,116 L17.5,108 L17.5,135 Z" fill="url(#sCore)"/>
<path d="M-17.5,125 L-17.5,116 L17.5,108 L17.5,117 Z" fill="#5a4a08" opacity="0.6"/>
<g transform="translate(0,116) rotate(-14)">
<ellipse cx="0" cy="4" rx="27.5" ry="8" fill="#6c5408"/>
<path d="M-27.5,0 Q-25.5,-7 -17.5,-10.5 L17.5,-7 Q25.5,-4 27.5,0 Z" fill="url(#sDisc)" stroke="#7a6810" stroke-width="0.5"/>
<ellipse cx="0" cy="0.5" rx="27.5" ry="8" fill="url(#sDisc)" stroke="#7a6810" stroke-width="0.6"/>
<ellipse cx="-1" cy="-2.5" rx="24.5" ry="5.6" fill="#a8c814" opacity="0.9"/>
<ellipse cx="12.375" cy="-2" rx="12.375" ry="4.4" fill="#d4b834" opacity="0.9" filter="url(#b06p)"/>
<path d="M-26.5,1 A26.5,7.4 0 0 0 26.5,1" stroke="#e4e070" stroke-width="1.2" fill="none" opacity="0.9"/>
</g>
<path d="M-17.5,120 L-17.5,91 L17.5,83 L17.5,111 Z" fill="url(#sCore)"/>
<path d="M-17.5,100 L-17.5,91 L17.5,83 L17.5,92 Z" fill="#5a4a08" opacity="0.6"/>
<g transform="translate(0,91) rotate(-14)">
<ellipse cx="0" cy="4" rx="26.5" ry="8" fill="#6c5408"/>
<path d="M-26.5,0 Q-24.5,-7 -17.5,-10.5 L17.5,-7 Q24.5,-4 26.5,0 Z" fill="url(#sDisc)" stroke="#7a6810" stroke-width="0.5"/>
<ellipse cx="0" cy="0.5" rx="26.5" ry="8" fill="url(#sDisc)" stroke="#7a6810" stroke-width="0.6"/>
<ellipse cx="-1" cy="-2.5" rx="23.5" ry="5.6" fill="#a8c814" opacity="0.9"/>
<ellipse cx="11.925" cy="-2" rx="11.925" ry="4.4" fill="#d4b834" opacity="0.9" filter="url(#b06p)"/>
<path d="M-25.5,1 A25.5,7.4 0 0 0 25.5,1" stroke="#e4e070" stroke-width="1.2" fill="none" opacity="0.9"/>
</g>
<path d="M-17.5,95 L-17.5,67 L17.5,59 L17.5,86 Z" fill="url(#sCore)"/>
<path d="M-17.5,76 L-17.5,67 L17.5,59 L17.5,68 Z" fill="#5a4a08" opacity="0.6"/>
<g transform="translate(0,67) rotate(-14)">
<ellipse cx="0" cy="4" rx="23" ry="8" fill="#6c5408"/>
<path d="M-23,0 Q-21,-7 -17,-10.5 L17,-7 Q21,-4 23,0 Z" fill="url(#sDisc)" stroke="#7a6810" stroke-width="0.5"/>
<ellipse cx="0" cy="0.5" rx="23" ry="8" fill="url(#sDisc)" stroke="#7a6810" stroke-width="0.6"/>
<ellipse cx="-1" cy="-2.5" rx="20" ry="5.6" fill="#a8c814" opacity="0.9"/>
<ellipse cx="10.35" cy="-2" rx="10.35" ry="4.4" fill="#d4b834" opacity="0.9" filter="url(#b06p)"/>
<path d="M-22,1 A22,7.4 0 0 0 22,1" stroke="#e4e070" stroke-width="1.2" fill="none" opacity="0.9"/>
</g>
<path d="M-17.5,71 L-17.5,48 L17.5,40 L17.5,62 Z" fill="url(#sNeck)"/>
<path d="M-17.5,57 L-17.5,48 L17.5,40 L17.5,49 Z" fill="#5a4a08" opacity="0.6"/>
<path d="M-49,14 C-53.5,10 -54.5,1 -50,-7.4 C-45,-14 -38,-16.5 -29.6,-18.6 C-10,-24 10,-24.5 25.5,-20.6 C40,-16.5 48,-12.5 51.5,-7.9 C54.5,-3 55,3 52.9,7 Q34.5,26 19,50 L-17.4,50.8 Q-31.5,31 -49,14 Z" fill="url(#sHead)"/>
<clipPath id="sHclip"><path d="M-49,14 C-53.5,10 -54.5,1 -50,-7.4 C-45,-14 -38,-16.5 -29.6,-18.6 C-10,-24 10,-24.5 25.5,-20.6 C40,-16.5 48,-12.5 51.5,-7.9 C54.5,-3 55,3 52.9,7 Q34.5,26 19,50 L-17.4,50.8 Q-31.5,31 -49,14 Z"/></clipPath>
<g clip-path="url(#sHclip)">
<path d="M-23.8,22.2 Q0,30 22.4,20.4 L19,50 L-17.4,50.8 Z" fill="url(#sCone)"/>
<path d="M-23.8,22.2 Q0,30 22.4,20.4" stroke="#7a6a14" stroke-width="1.5" fill="none" opacity="0.7"/>
<path d="M-49,14 C-53.5,10 -54.5,1 -50,-7.4 C-45,-14 -38,-16.5 -29.6,-18.6 C-10,-24 10,-24.5 25.5,-20.6 C40,-16.5 48,-12.5 51.5,-7.9 C54.5,-3 55,3 52.9,7" stroke="#c2d42c" stroke-width="4.5" fill="none" filter="url(#b06p)"/>
<ellipse cx="36" cy="14" rx="13" ry="9" fill="#e8883a" filter="url(#b2)"/>
<ellipse cx="-38" cy="0" rx="8" ry="12" fill="#c89c24" filter="url(#b2)"/>
<ellipse cx="-12" cy="-2" rx="3" ry="13" fill="#fbf4dc" filter="url(#b1)"/>
<ellipse cx="8" cy="-4" rx="14" ry="12" fill="#7c7010" opacity="0.6" filter="url(#b2)"/>
</g>
</g>
</g>
<defs>
<clipPath id="cClip"><ellipse cx="630.6" cy="575.4" rx="148.3" ry="145.9"/></clipPath>
<linearGradient id="cR" gradientUnits="userSpaceOnUse" x1="624.0" y1="555.0" x2="678.3" y2="525.3">
<stop offset="0" stop-color="#f0e890"/><stop offset="0.05" stop-color="#d8dc58"/><stop offset="0.13" stop-color="#94d048"/><stop offset="0.22" stop-color="#d8e050"/><stop offset="0.34" stop-color="#f4d460"/>
<stop offset="0.5" stop-color="#f4a878"/><stop offset="0.75" stop-color="#f09c50"/><stop offset="1" stop-color="#e48434"/>
</linearGradient>
<linearGradient id="cL" gradientUnits="userSpaceOnUse" x1="592.5" y1="581.3" x2="615.3" y2="569.0">
<stop offset="0" stop-color="#f0d440"/><stop offset="0.35" stop-color="#e4b828"/><stop offset="0.75" stop-color="#d4a420"/><stop offset="0.92" stop-color="#f4e080"/><stop offset="1" stop-color="#c09020"/>
</linearGradient>
<linearGradient id="cCh" gradientUnits="userSpaceOnUse" x1="582.0" y1="502.5" x2="687.0" y2="677.5">
<stop offset="0" stop-color="#ee7c50"/><stop offset="0.25" stop-color="#ec9430"/><stop offset="0.5" stop-color="#d4901c"/><stop offset="0.7" stop-color="#a86818"/><stop offset="0.9" stop-color="#7c3c10"/><stop offset="1" stop-color="#9c5818"/>
</linearGradient>
<linearGradient id="cV" gradientUnits="userSpaceOnUse" x1="576.8" y1="472.8" x2="690.5" y2="679.3">
<stop offset="0" stop-color="#f09068" stop-opacity="0.5"/><stop offset="0.2" stop-color="#f08860" stop-opacity="0"/><stop offset="0.75" stop-color="#f0a030" stop-opacity="0"/><stop offset="1" stop-color="#f0a030" stop-opacity="0.8"/>
</linearGradient>
</defs>
<g clip-path="url(#cClip)"><g filter="url(#b06)">
<polygon points="575.0,502.5 596.0,542.8 614.2,578.8 630.3,613.8 645.0,640.8 660.8,665.3 680.0,682.8 704.5,730.0 736.0,730.0 690.5,679.3 680.0,660.0 660.8,625.0 641.5,590.0 624.0,555.0 604.8,520.0 592.5,495.5 576.8,472.8" fill="url(#cCh)"/>
<polygon points="660.8,665.3 680.0,682.8 690.5,679.3 722.0,730.0 664.3,730.0 648.5,689.8" fill="#d4ac24"/>
<polygon points="688.8,679.3 691.2,678.2 708.0,719.5 705.9,720.2" fill="#6c3c10"/>
<polygon points="554.0,497.3 557.5,502.5 569.8,528.8 580.3,553.3 592.5,581.3 605.8,609.3 618.8,637.3 632.8,661.8 648.5,689.8 664.3,726.5 687.0,730.0 680.0,682.8 660.8,665.3 645.0,640.8 630.3,613.8 614.2,578.8 596.0,542.8 575.0,502.5 564.5,501.8" fill="url(#cL)"/>
<ellipse cx="559.3" cy="513.7" rx="7.5" ry="10" transform="rotate(-28 560.3 513.7)" fill="#dcb42c"/>
<ellipse cx="559.3" cy="510.70000000000005" rx="2.5" ry="4" transform="rotate(-28 560.3 513.7)" fill="#f6e88c" opacity="0.8" filter="url(#b1)"/>
<ellipse cx="565.3" cy="521.7" rx="2.5" ry="3.5" fill="#a88420" opacity="0.5" filter="url(#b1)"/>
<ellipse cx="572.3" cy="539.3" rx="7.5" ry="10" transform="rotate(-28 573.3 539.3)" fill="#dcb42c"/>
<ellipse cx="572.3" cy="536.3" rx="2.5" ry="4" transform="rotate(-28 573.3 539.3)" fill="#f6e88c" opacity="0.8" filter="url(#b1)"/>
<ellipse cx="578.3" cy="547.3" rx="2.5" ry="3.5" fill="#a88420" opacity="0.5" filter="url(#b1)"/>
<ellipse cx="584.5" cy="567.3" rx="7.5" ry="10" transform="rotate(-28 585.5 567.3)" fill="#dcb42c"/>
<ellipse cx="584.5" cy="564.3" rx="2.5" ry="4" transform="rotate(-28 585.5 567.3)" fill="#f6e88c" opacity="0.8" filter="url(#b1)"/>
<ellipse cx="590.5" cy="575.3" rx="2.5" ry="3.5" fill="#a88420" opacity="0.5" filter="url(#b1)"/>
<ellipse cx="597.5" cy="595.3" rx="7.5" ry="10" transform="rotate(-28 598.5 595.3)" fill="#dcb42c"/>
<ellipse cx="597.5" cy="592.3" rx="2.5" ry="4" transform="rotate(-28 598.5 595.3)" fill="#f6e88c" opacity="0.8" filter="url(#b1)"/>
<ellipse cx="603.5" cy="603.3" rx="2.5" ry="3.5" fill="#a88420" opacity="0.5" filter="url(#b1)"/>
<ellipse cx="610.8" cy="622.6" rx="7.5" ry="10" transform="rotate(-28 611.8 622.6)" fill="#dcb42c"/>
<ellipse cx="610.8" cy="619.6" rx="2.5" ry="4" transform="rotate(-28 611.8 622.6)" fill="#f6e88c" opacity="0.8" filter="url(#b1)"/>
<ellipse cx="616.8" cy="630.6" rx="2.5" ry="3.5" fill="#a88420" opacity="0.5" filter="url(#b1)"/>
<ellipse cx="624.8" cy="649.5" rx="7.5" ry="10" transform="rotate(-28 625.8 649.5)" fill="#dcb42c"/>
<ellipse cx="624.8" cy="646.5" rx="2.5" ry="4" transform="rotate(-28 625.8 649.5)" fill="#f6e88c" opacity="0.8" filter="url(#b1)"/>
<ellipse cx="630.8" cy="657.5" rx="2.5" ry="3.5" fill="#a88420" opacity="0.5" filter="url(#b1)"/>
<ellipse cx="639.5" cy="675.8" rx="7.5" ry="10" transform="rotate(-28 640.5 675.8)" fill="#dcb42c"/>
<ellipse cx="639.5" cy="672.8" rx="2.5" ry="4" transform="rotate(-28 640.5 675.8)" fill="#f6e88c" opacity="0.8" filter="url(#b1)"/>
<ellipse cx="645.5" cy="683.8" rx="2.5" ry="3.5" fill="#a88420" opacity="0.5" filter="url(#b1)"/>
<ellipse cx="656.3" cy="702.0" rx="7.5" ry="10" transform="rotate(-28 657.3 702.0)" fill="#dcb42c"/>
<ellipse cx="656.3" cy="699.0" rx="2.5" ry="4" transform="rotate(-28 657.3 702.0)" fill="#f6e88c" opacity="0.8" filter="url(#b1)"/>
<ellipse cx="662.3" cy="710.0" rx="2.5" ry="3.5" fill="#a88420" opacity="0.5" filter="url(#b1)"/>
<ellipse cx="655.5" cy="691.5" rx="12" ry="30" transform="rotate(-28 655.5 691.5)" fill="#b8a834" opacity="0.8" filter="url(#b3)"/>
<ellipse cx="587.3" cy="516.5" rx="5" ry="3" transform="rotate(18 587.3 516.5)" fill="#f8c060" filter="url(#b06p)"/>
<ellipse cx="588.3" cy="521.5" rx="5" ry="2.5" transform="rotate(18 587.3 516.5)" fill="#703410" opacity="0.55" filter="url(#b06p)"/>
<ellipse cx="597.8" cy="535.8" rx="6" ry="3" transform="rotate(18 597.8 535.8)" fill="#fce070" filter="url(#b06p)"/>
<ellipse cx="598.8" cy="540.8" rx="6" ry="2.5" transform="rotate(18 597.8 535.8)" fill="#703410" opacity="0.55" filter="url(#b06p)"/>
<ellipse cx="608.3" cy="556.8" rx="7" ry="3" transform="rotate(18 608.3 556.8)" fill="#fbd850" filter="url(#b06p)"/>
<ellipse cx="609.3" cy="561.8" rx="7" ry="2.5" transform="rotate(18 608.3 556.8)" fill="#703410" opacity="0.55" filter="url(#b06p)"/>
<ellipse cx="618.8" cy="577.8" rx="8" ry="3" transform="rotate(18 618.8 577.8)" fill="#f8d040" filter="url(#b06p)"/>
<ellipse cx="619.8" cy="582.8" rx="8" ry="2.5" transform="rotate(18 618.8 577.8)" fill="#703410" opacity="0.55" filter="url(#b06p)"/>
<ellipse cx="630.3" cy="598.8" rx="9" ry="3" transform="rotate(18 630.3 598.8)" fill="#fff0a0" filter="url(#b06p)"/>
<ellipse cx="631.3" cy="603.8" rx="9" ry="2.5" transform="rotate(18 630.3 598.8)" fill="#703410" opacity="0.55" filter="url(#b06p)"/>
<ellipse cx="642.2" cy="619.8" rx="9" ry="3" transform="rotate(18 642.2 619.8)" fill="#f4d870" filter="url(#b06p)"/>
<ellipse cx="643.2" cy="624.8" rx="9" ry="2.5" transform="rotate(18 642.2 619.8)" fill="#703410" opacity="0.55" filter="url(#b06p)"/>
<ellipse cx="653.8" cy="640.8" rx="9" ry="3" transform="rotate(18 653.8 640.8)" fill="#f0dca0" filter="url(#b06p)"/>
<ellipse cx="654.8" cy="645.8" rx="9" ry="2.5" transform="rotate(18 653.8 640.8)" fill="#703410" opacity="0.55" filter="url(#b06p)"/>
<ellipse cx="667.8" cy="661.8" rx="8" ry="3" transform="rotate(18 667.8 661.8)" fill="#ecd090" filter="url(#b06p)"/>
<ellipse cx="668.8" cy="666.8" rx="8" ry="2.5" transform="rotate(18 667.8 661.8)" fill="#703410" opacity="0.55" filter="url(#b06p)"/>
<polyline points="575.0,502.5 596.0,542.8 614.2,578.8 630.3,613.8 645.0,640.8 660.8,665.3 680.0,682.8" fill="none" stroke="#f8eca0" stroke-width="2"/>
<polygon points="576.8,472.8 592.5,495.5 604.8,520.0 624.0,555.0 641.5,590.0 660.8,625.0 680.0,660.0 690.5,679.3 736.0,730.0 771.0,730.0 755.3,698.5 738.8,667.0 722.7,637.3 706.3,609.3 688.8,582.3 672.3,554.3 655.5,527.0 639.8,497.3 627.5,466.8 601.3,476.3" fill="url(#cR)"/>
<polygon points="576.8,472.8 592.5,495.5 604.8,520.0 624.0,555.0 641.5,590.0 660.8,625.0 680.0,660.0 690.5,679.3 736.0,730.0 771.0,730.0 755.3,698.5 738.8,667.0 722.7,637.3 706.3,609.3 688.8,582.3 672.3,554.3 655.5,527.0 639.8,497.3 627.5,466.8 601.3,476.3" fill="url(#cV)"/>
<ellipse cx="680.0" cy="600.5" rx="11" ry="36" transform="rotate(-30 680.0 600.5)" fill="#f8c8a0" opacity="0.9" filter="url(#b3)"/>
<ellipse cx="615.3" cy="483.3" rx="12" ry="9" fill="#f09470" filter="url(#b2)"/>
<path d="M595.3,496.9 Q608.15,499.85 617.0,508.8" stroke="#f8f4c0" stroke-width="1.2" fill="none" opacity="0.7"/>
<path d="M604.2,513.6 Q617.05,516.55 625.9,525.5" stroke="#f8f4c0" stroke-width="1.2" fill="none" opacity="0.7"/>
<path d="M613.1,530.3 Q625.95,533.25 634.8,542.2" stroke="#f8f4c0" stroke-width="1.2" fill="none" opacity="0.7"/>
<path d="M622.0,547.0 Q634.85,549.95 643.7,558.9" stroke="#f8f4c0" stroke-width="1.2" fill="none" opacity="0.7"/>
<path d="M630.9,563.7 Q643.75,566.6500000000001 652.6,575.6" stroke="#f8f4c0" stroke-width="1.2" fill="none" opacity="0.7"/>
<path d="M639.9,580.4 Q652.75,583.3499999999999 661.6,592.3" stroke="#f8f4c0" stroke-width="1.2" fill="none" opacity="0.7"/>
<path d="M648.8,597.1 Q661.65,600.05 670.5,609.0" stroke="#f8f4c0" stroke-width="1.2" fill="none" opacity="0.7"/>
<path d="M657.7,613.8 Q670.55,616.75 679.4,625.7" stroke="#f8f4c0" stroke-width="1.2" fill="none" opacity="0.7"/>
<path d="M666.6,630.5 Q679.45,633.45 688.3,642.4" stroke="#f8f4c0" stroke-width="1.2" fill="none" opacity="0.7"/>
<path d="M675.5,647.3 Q688.35,650.25 697.2,659.2" stroke="#f8f4c0" stroke-width="1.2" fill="none" opacity="0.7"/>
<path d="M684.4,664.0 Q697.25,666.95 706.1,675.9" stroke="#f8f4c0" stroke-width="1.2" fill="none" opacity="0.7"/>
<path d="M693.3,680.7 Q706.15,683.6500000000001 715.0,692.6" stroke="#f8f4c0" stroke-width="1.2" fill="none" opacity="0.7"/>
<polyline points="576.8,472.8 592.5,495.5 604.8,520.0 624.0,555.0 641.5,590.0 660.8,625.0 680.0,660.0 690.5,679.3" fill="none" stroke="#f4f0b8" stroke-width="2.2"/>
<rect x="624.7" y="467.2" width="13" height="17" rx="3.5" transform="rotate(-30 631.7 475.2)" fill="#ec9444"/>
<rect x="630.7" y="468.2" width="6" height="8" rx="2.5" transform="rotate(-30 631.7 475.2)" fill="#b4401a"/>
<rect x="625.7" y="476.2" width="10" height="6" rx="2.5" transform="rotate(-30 631.7 475.2)" fill="#f4b070" opacity="0.9"/>
<rect x="640.1" y="495.2" width="13" height="17" rx="3.5" transform="rotate(-30 647.1 503.2)" fill="#ec9444"/>
<rect x="646.1" y="496.2" width="6" height="8" rx="2.5" transform="rotate(-30 647.1 503.2)" fill="#b4401a"/>
<rect x="641.1" y="504.2" width="10" height="6" rx="2.5" transform="rotate(-30 647.1 503.2)" fill="#f4b070" opacity="0.9"/>
<rect x="656.2" y="524.6" width="13" height="17" rx="3.5" transform="rotate(-30 663.2 532.6)" fill="#ec9444"/>
<rect x="662.2" y="525.6" width="6" height="8" rx="2.5" transform="rotate(-30 663.2 532.6)" fill="#b4401a"/>
<rect x="657.2" y="533.6" width="10" height="6" rx="2.5" transform="rotate(-30 663.2 532.6)" fill="#f4b070" opacity="0.9"/>
<rect x="672.3" y="551.2" width="13" height="17" rx="3.5" transform="rotate(-30 679.3 559.2)" fill="#ec9444"/>
<rect x="678.3" y="552.2" width="6" height="8" rx="2.5" transform="rotate(-30 679.3 559.2)" fill="#b4401a"/>
<rect x="673.3" y="560.2" width="10" height="6" rx="2.5" transform="rotate(-30 679.3 559.2)" fill="#f4b070" opacity="0.9"/>
<rect x="689.5" y="579.9" width="13" height="17" rx="3.5" transform="rotate(-30 696.5 587.9)" fill="#ec9444"/>
<rect x="695.5" y="580.9" width="6" height="8" rx="2.5" transform="rotate(-30 696.5 587.9)" fill="#b4401a"/>
<rect x="690.5" y="588.9" width="10" height="6" rx="2.5" transform="rotate(-30 696.5 587.9)" fill="#f4b070" opacity="0.9"/>
<rect x="707.0" y="606.5" width="13" height="17" rx="3.5" transform="rotate(-30 714.0 614.5)" fill="#ec9444"/>
<rect x="713.0" y="607.5" width="6" height="8" rx="2.5" transform="rotate(-30 714.0 614.5)" fill="#b4401a"/>
<rect x="708.0" y="615.5" width="10" height="6" rx="2.5" transform="rotate(-30 714.0 614.5)" fill="#f4b070" opacity="0.9"/>
<rect x="724.5" y="635.9" width="13" height="17" rx="3.5" transform="rotate(-30 731.5 643.9)" fill="#ec9444"/>
<rect x="730.5" y="636.9" width="6" height="8" rx="2.5" transform="rotate(-30 731.5 643.9)" fill="#b4401a"/>
<rect x="725.5" y="644.9" width="10" height="6" rx="2.5" transform="rotate(-30 731.5 643.9)" fill="#f4b070" opacity="0.9"/>
<rect x="740.2" y="666.7" width="13" height="17" rx="3.5" transform="rotate(-30 747.2 674.7)" fill="#ec9444"/>
<rect x="746.2" y="667.7" width="6" height="8" rx="2.5" transform="rotate(-30 747.2 674.7)" fill="#b4401a"/>
<rect x="741.2" y="675.7" width="10" height="6" rx="2.5" transform="rotate(-30 747.2 674.7)" fill="#f4b070" opacity="0.9"/>
<rect x="757.0" y="699.3" width="13" height="17" rx="3.5" transform="rotate(-30 764.0 707.3)" fill="#ec9444"/>
<rect x="763.0" y="700.3" width="6" height="8" rx="2.5" transform="rotate(-30 764.0 707.3)" fill="#b4401a"/>
<rect x="758.0" y="708.3" width="10" height="6" rx="2.5" transform="rotate(-30 764.0 707.3)" fill="#f4b070" opacity="0.9"/>
<ellipse cx="638.8" cy="491.3" rx="3.5" ry="6" transform="rotate(-28 639.8 491.3)" fill="#f2a070" opacity="0.8"/>
<ellipse cx="654.5" cy="521.1" rx="3.5" ry="6" transform="rotate(-28 655.5 521.1)" fill="#f2a070" opacity="0.8"/>
<ellipse cx="670.6" cy="548.0" rx="3.5" ry="6" transform="rotate(-28 671.6 548.0)" fill="#f2a070" opacity="0.8"/>
<ellipse cx="687.4" cy="575.3" rx="3.5" ry="6" transform="rotate(-28 688.4 575.3)" fill="#f2a070" opacity="0.8"/>
<ellipse cx="704.9" cy="603.3" rx="3.5" ry="6" transform="rotate(-28 705.9 603.3)" fill="#f2a070" opacity="0.8"/>
<ellipse cx="721.7" cy="630.6" rx="3.5" ry="6" transform="rotate(-28 722.7 630.6)" fill="#f2a070" opacity="0.8"/>
<ellipse cx="737.8" cy="660.4" rx="3.5" ry="6" transform="rotate(-28 738.8 660.4)" fill="#f2a070" opacity="0.8"/>
<ellipse cx="753.9" cy="692.6" rx="3.5" ry="6" transform="rotate(-28 754.9 692.6)" fill="#f2a070" opacity="0.8"/>
</g></g>
<!-- /ART -->
</svg>
<div class="red" id="r1" style="top:693.2px;transform:scaleX(1.057)">The anchors expand on four opposing sides</div>
<div class="red" id="r2" style="top:723.2px;transform:scaleX(1.062)">as you tighten the screw, increasing holding power.</div>
<div class="red" id="r3" style="top:753.3px;transform:scaleX(1.063)">The serrated shell can effectively increase the grip of the anchor.</div>
</body></html>
